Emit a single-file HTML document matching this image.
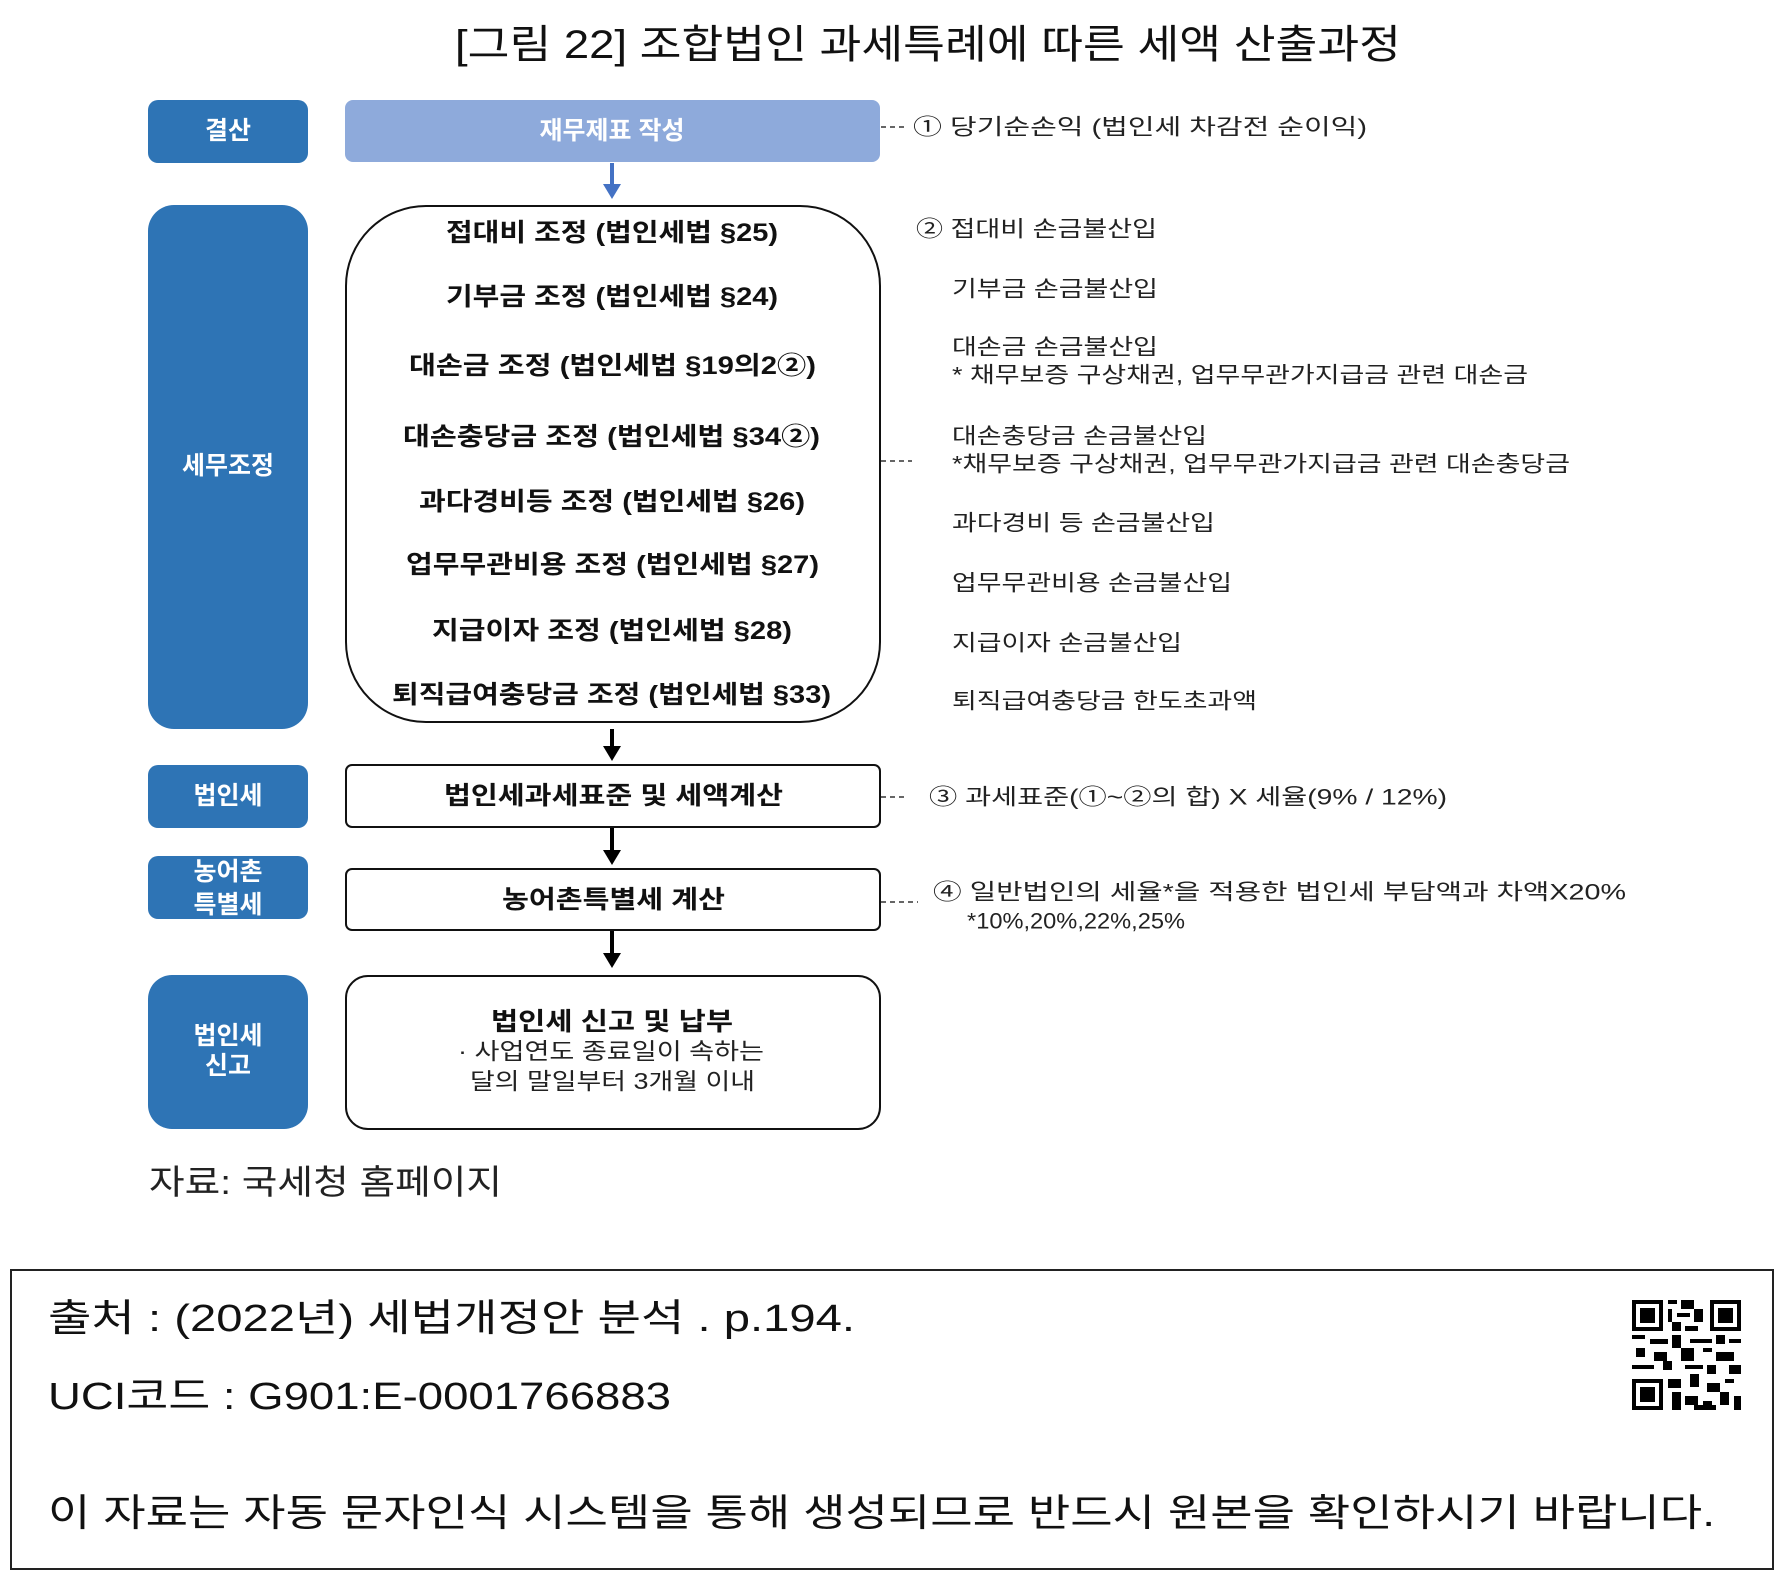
<!DOCTYPE html>
<html><head><meta charset="utf-8"><style>
html,body{margin:0;padding:0;background:#fff;}
svg{display:block;}
.t{font-family:"Liberation Sans","Noto Sans CJK KR",sans-serif;}
.b{font-weight:bold;}
</style></head><body>
<svg width="1780" height="1576" viewBox="0 0 1780 1576" xmlns="http://www.w3.org/2000/svg">
<g class="t" dominant-baseline="central">
<text x="455" y="45" font-size="40" textLength="946" lengthAdjust="spacingAndGlyphs" fill="#111">[그림 22] 조합법인 과세특례에 따른 세액 산출과정</text>

<!-- left blue labels -->
<g fill="#2e74b5">
<rect x="148" y="100" width="160" height="63" rx="10"/>
<rect x="148" y="205" width="160" height="524" rx="26"/>
<rect x="148" y="765" width="160" height="63" rx="10"/>
<rect x="148" y="856" width="160" height="63" rx="10"/>
<rect x="148" y="975" width="160" height="154" rx="24"/>
</g>
<g fill="#fff" font-size="25" class="b" text-anchor="middle">
<text x="228" y="131">결산</text>
<text x="228" y="466">세무조정</text>
<text x="228" y="796">법인세</text>
<text x="228" y="872">농어촌</text>
<text x="228" y="905">특별세</text>
<text x="228" y="1036">법인세</text>
<text x="228" y="1066">신고</text>
</g>

<!-- middle boxes -->
<rect x="345" y="100" width="535" height="62" rx="8" fill="#8eaadb"/>
<text x="612" y="131" fill="#fff" font-size="25" class="b" text-anchor="middle">재무제표 작성</text>
<rect x="346" y="206" width="534" height="516" rx="80" fill="#fff" stroke="#111" stroke-width="2"/>
<rect x="346" y="765" width="534" height="62" rx="6" fill="#fff" stroke="#111" stroke-width="2"/>
<rect x="346" y="869" width="534" height="61" rx="6" fill="#fff" stroke="#111" stroke-width="2"/>
<rect x="346" y="976" width="534" height="153" rx="22" fill="#fff" stroke="#111" stroke-width="2"/>

<g font-size="25" class="b" fill="#111">
<text x="446" y="233" textLength="332" lengthAdjust="spacingAndGlyphs">접대비 조정 (법인세법 §25)</text>
<text x="446" y="297" textLength="332" lengthAdjust="spacingAndGlyphs">기부금 조정 (법인세법 §24)</text>
<text x="409" y="366" textLength="407" lengthAdjust="spacingAndGlyphs">대손금 조정 (법인세법 §19의2②)</text>
<text x="403" y="437" textLength="417" lengthAdjust="spacingAndGlyphs">대손충당금 조정 (법인세법 §34②)</text>
<text x="419" y="502" textLength="386" lengthAdjust="spacingAndGlyphs">과다경비등 조정 (법인세법 §26)</text>
<text x="406" y="565" textLength="413" lengthAdjust="spacingAndGlyphs">업무무관비용 조정 (법인세법 §27)</text>
<text x="432" y="631" textLength="360" lengthAdjust="spacingAndGlyphs">지급이자 조정 (법인세법 §28)</text>
<text x="392" y="695" textLength="439" lengthAdjust="spacingAndGlyphs">퇴직급여충당금 조정 (법인세법 §33)</text>
<text x="444" y="796" textLength="339" lengthAdjust="spacingAndGlyphs">법인세과세표준 및 세액계산</text>
<text x="502" y="900" textLength="223" lengthAdjust="spacingAndGlyphs">농어촌특별세 계산</text>
<text x="491" y="1022" textLength="242" lengthAdjust="spacingAndGlyphs">법인세 신고 및 납부</text>
</g>
<g font-size="23" fill="#222">
<text x="458" y="1051" textLength="306" lengthAdjust="spacingAndGlyphs">· 사업연도 종료일이 속하는</text>
<text x="470" y="1081" textLength="285" lengthAdjust="spacingAndGlyphs">달의 말일부터 3개월 이내</text>
</g>

<!-- arrows -->
<line x1="612" y1="163" x2="612" y2="186" stroke="#4472c4" stroke-width="4"/>
<polygon points="603,184 621,184 612,199" fill="#4472c4"/>
<g stroke="#000" stroke-width="4">
<line x1="612" y1="729" x2="612" y2="748"/>
<line x1="612" y1="828" x2="612" y2="852"/>
<line x1="612" y1="931" x2="612" y2="955"/>
</g>
<g fill="#000">
<polygon points="603,746 621,746 612,761"/>
<polygon points="603,850 621,850 612,865"/>
<polygon points="603,953 621,953 612,968"/>
</g>

<!-- dashed connectors -->
<g stroke="#333" stroke-width="1.5" stroke-dasharray="5,4">
<line x1="881" y1="127" x2="905" y2="127"/>
<line x1="881" y1="461" x2="912" y2="461"/>
<line x1="881" y1="797" x2="904" y2="797"/>
<line x1="881" y1="902" x2="918" y2="902"/>
</g>

<!-- right annotations -->
<g font-size="22" fill="#222">
<text x="913" y="127" textLength="454" lengthAdjust="spacingAndGlyphs">① 당기순손익 (법인세 차감전 순이익)</text>
<text x="916" y="229" textLength="241" lengthAdjust="spacingAndGlyphs">② 접대비 손금불산입</text>
<text x="952" y="289" textLength="206" lengthAdjust="spacingAndGlyphs">기부금 손금불산입</text>
<text x="952" y="347" textLength="206" lengthAdjust="spacingAndGlyphs">대손금 손금불산입</text>
<text x="952" y="375" textLength="576" lengthAdjust="spacingAndGlyphs">* 채무보증 구상채권, 업무무관가지급금 관련 대손금</text>
<text x="952" y="436" textLength="255" lengthAdjust="spacingAndGlyphs">대손충당금 손금불산입</text>
<text x="952" y="464" textLength="618" lengthAdjust="spacingAndGlyphs">*채무보증 구상채권, 업무무관가지급금 관련 대손충당금</text>
<text x="952" y="523" textLength="263" lengthAdjust="spacingAndGlyphs">과다경비 등 손금불산입</text>
<text x="952" y="583" textLength="280" lengthAdjust="spacingAndGlyphs">업무무관비용 손금불산입</text>
<text x="952" y="643" textLength="230" lengthAdjust="spacingAndGlyphs">지급이자 손금불산입</text>
<text x="952" y="701" textLength="305" lengthAdjust="spacingAndGlyphs">퇴직급여충당금 한도초과액</text>
<text x="929" y="797" textLength="518" lengthAdjust="spacingAndGlyphs">③ 과세표준(①~②의 합) X 세율(9% / 12%)</text>
<text x="933" y="892" textLength="693" lengthAdjust="spacingAndGlyphs">④ 일반법인의 세율*을 적용한 법인세 부담액과 차액X20%</text>
<text x="967" y="921" textLength="218" lengthAdjust="spacingAndGlyphs">*10%,20%,22%,25%</text>
</g>

<text x="149" y="1183" font-size="34" fill="#222" textLength="353" lengthAdjust="spacingAndGlyphs">자료: 국세청 홈페이지</text>

<!-- bottom box -->
<rect x="11" y="1270" width="1762" height="299" fill="none" stroke="#222" stroke-width="2"/>
<g font-size="38" fill="#111">
<text x="48" y="1319" textLength="807" lengthAdjust="spacingAndGlyphs">출처 : (2022년) 세법개정안 분석 . p.194.</text>
<text x="48" y="1397" textLength="623" lengthAdjust="spacingAndGlyphs">UCI코드 : G901:E-0001766883</text>
<text x="48" y="1514" textLength="1667" lengthAdjust="spacingAndGlyphs">이 자료는 자동 문자인식 시스템을 통해 생성되므로 반드시 원본을 확인하시기 바랍니다.</text>
</g>
</g>

<!-- QR approximation -->
<g fill="#000">
<rect x="1632" y="1300" width="31" height="31"/><rect x="1636" y="1304" width="23" height="23" fill="#fff"/><rect x="1640" y="1308" width="15" height="15"/>
<rect x="1710" y="1300" width="31" height="31"/><rect x="1714" y="1304" width="23" height="23" fill="#fff"/><rect x="1718" y="1308" width="15" height="15"/>
<rect x="1632" y="1379" width="31" height="31"/><rect x="1636" y="1383" width="23" height="23" fill="#fff"/><rect x="1640" y="1387" width="15" height="15"/>
<rect x="1668" y="1300" width="9" height="4"/><rect x="1681" y="1300" width="13" height="9"/><rect x="1668" y="1309" width="4" height="13"/>
<rect x="1677" y="1313" width="13" height="4"/><rect x="1694" y="1309" width="9" height="13"/><rect x="1672" y="1322" width="9" height="9"/>
<rect x="1685" y="1326" width="13" height="5"/><rect x="1632" y="1335" width="13" height="4"/><rect x="1650" y="1339" width="18" height="5"/>
<rect x="1672" y="1335" width="9" height="13"/><rect x="1690" y="1339" width="22" height="4"/><rect x="1716" y="1335" width="9" height="9"/>
<rect x="1729" y="1339" width="12" height="4"/><rect x="1636" y="1348" width="9" height="9"/><rect x="1654" y="1352" width="13" height="9"/>
<rect x="1681" y="1348" width="13" height="13"/><rect x="1703" y="1348" width="9" height="4"/><rect x="1716" y="1352" width="18" height="9"/>
<rect x="1632" y="1365" width="22" height="4"/><rect x="1663" y="1361" width="9" height="9"/><rect x="1685" y="1365" width="18" height="4"/>
<rect x="1707" y="1365" width="9" height="9"/><rect x="1729" y="1365" width="12" height="9"/><rect x="1668" y="1379" width="13" height="9"/>
<rect x="1690" y="1374" width="9" height="13"/><rect x="1707" y="1383" width="13" height="9"/><rect x="1725" y="1379" width="9" height="4"/>
<rect x="1672" y="1392" width="9" height="18"/><rect x="1685" y="1396" width="13" height="9"/><rect x="1703" y="1401" width="9" height="9"/>
<rect x="1720" y="1392" width="9" height="13"/><rect x="1734" y="1396" width="7" height="14"/><rect x="1694" y="1405" width="22" height="5"/>
</g>
</svg>
</body></html>
